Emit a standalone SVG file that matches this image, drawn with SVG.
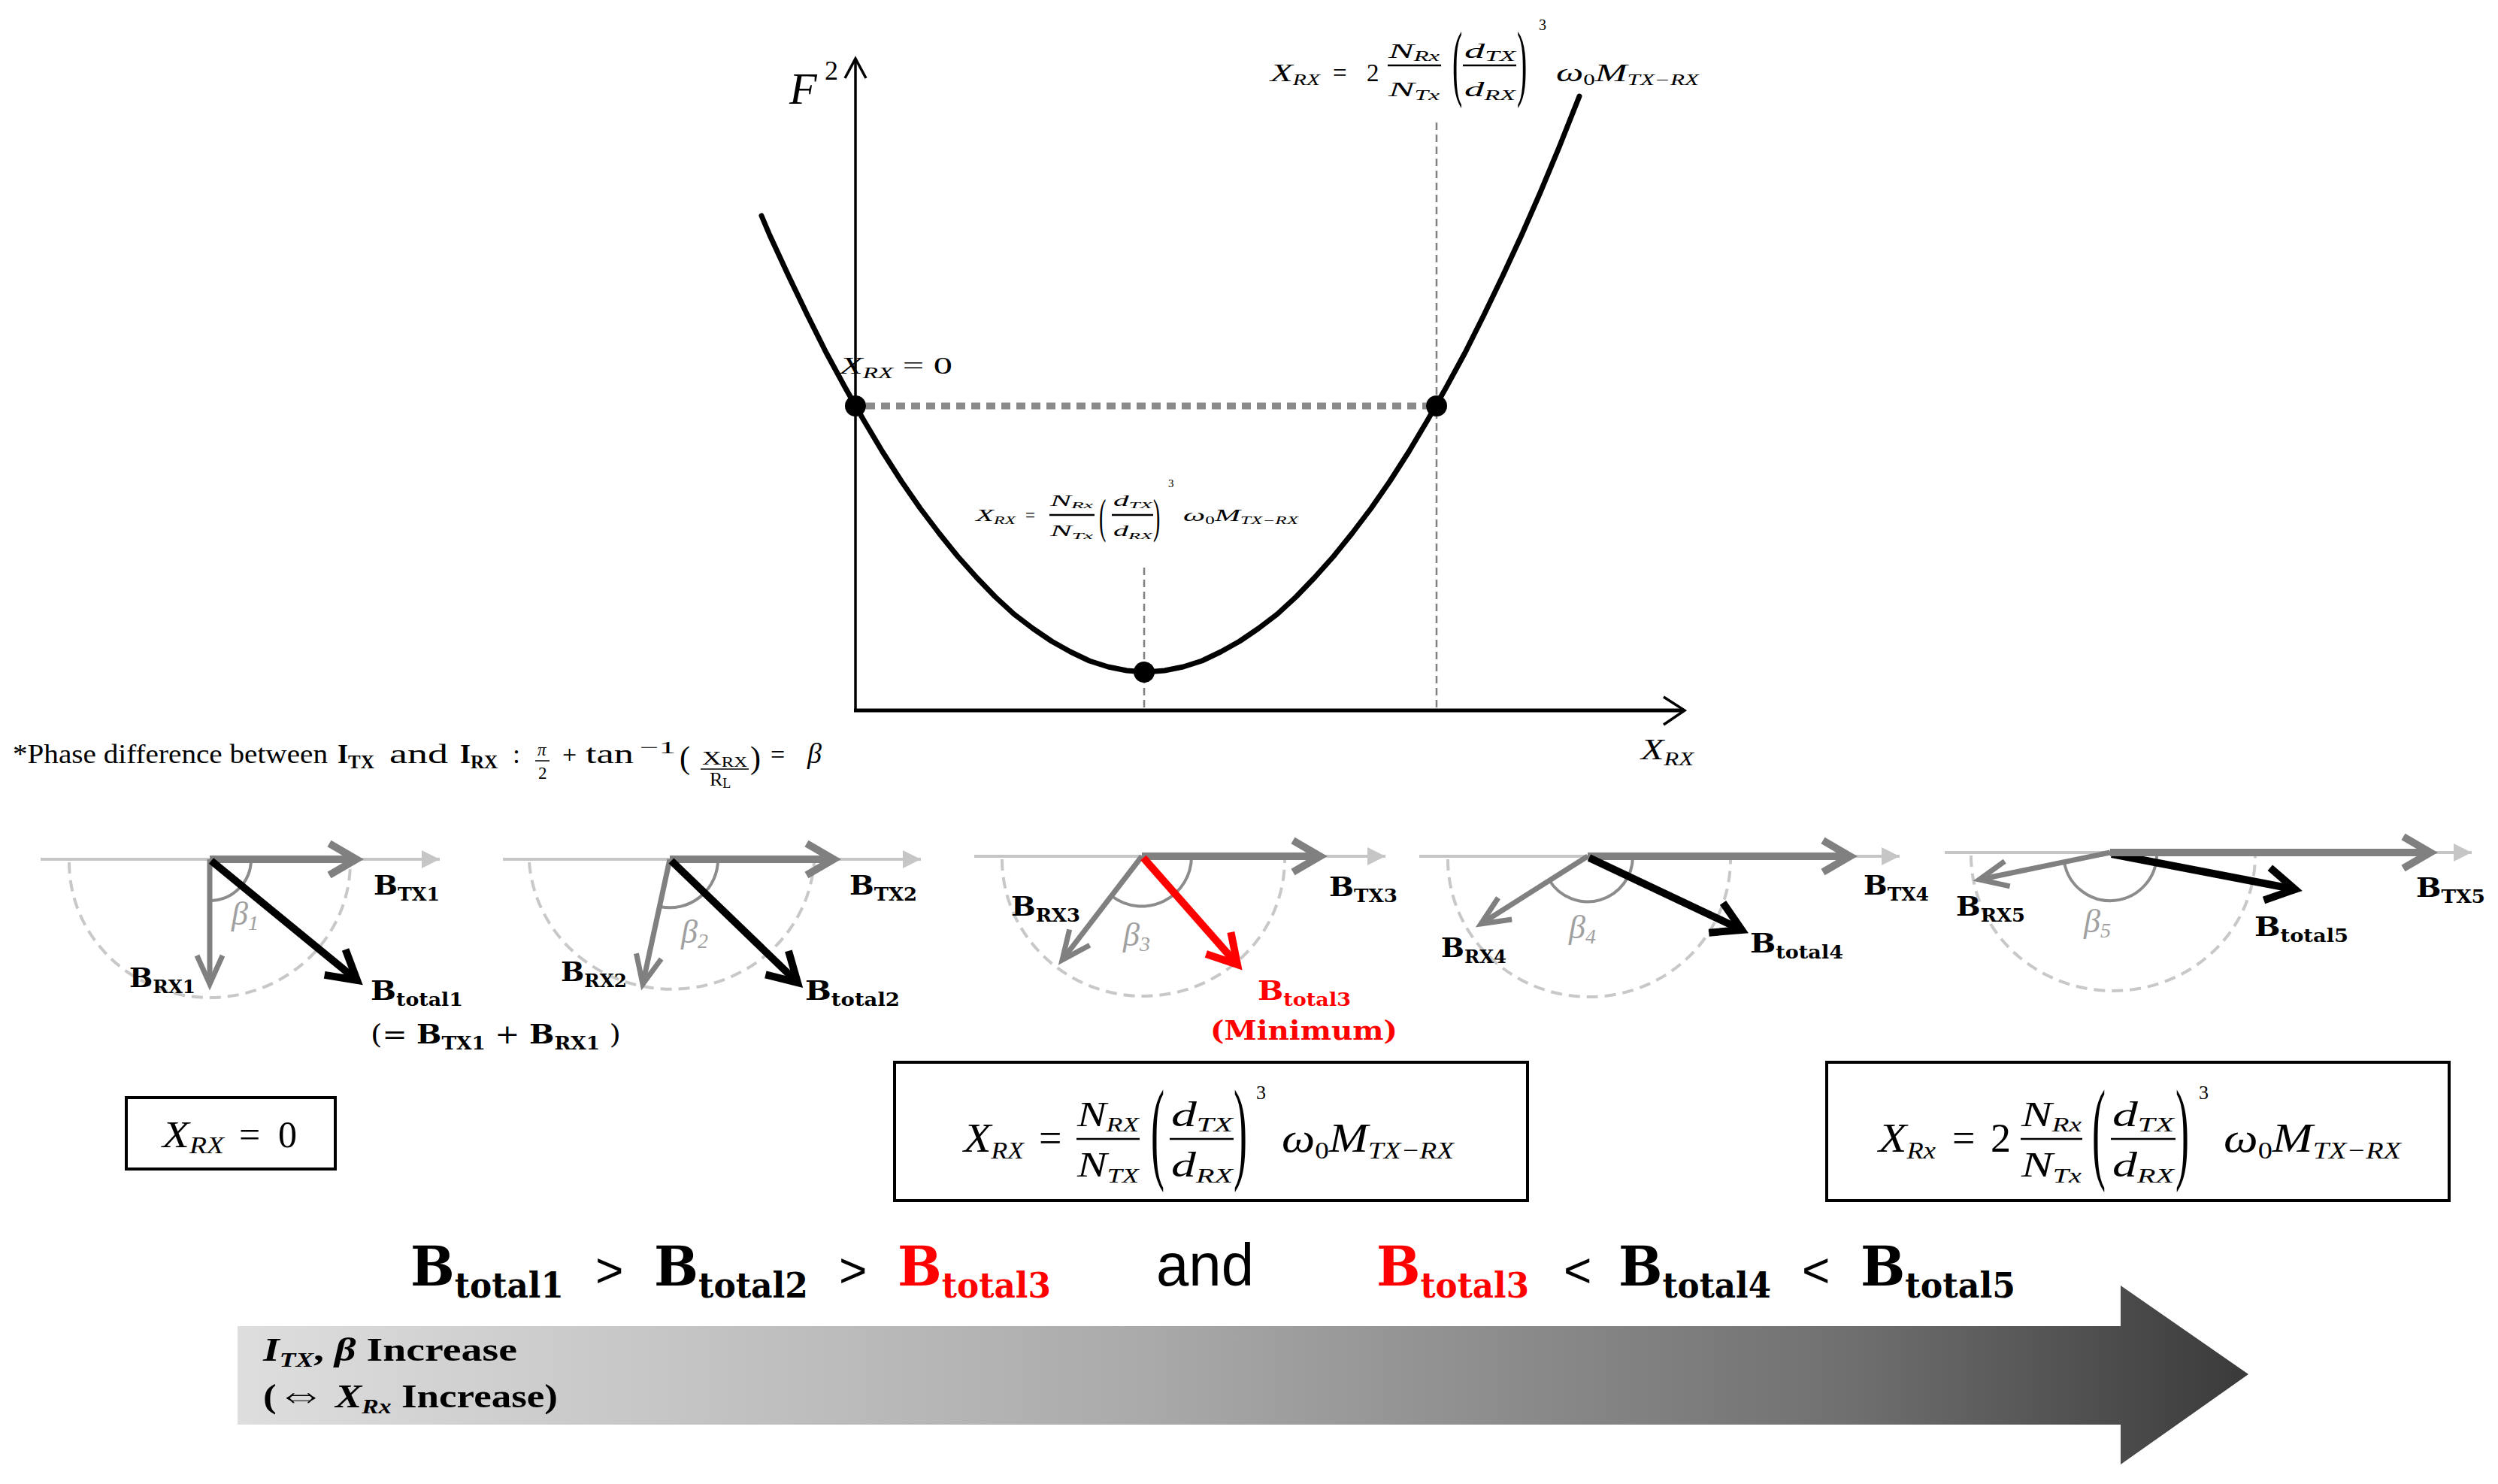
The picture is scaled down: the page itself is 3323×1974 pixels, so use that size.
<svg xmlns="http://www.w3.org/2000/svg" width="3323" height="1974" viewBox="0 0 3323 1974">
<style>
.lb{font-family:"DejaVu Serif",serif;font-weight:bold;font-size:36px;fill:#000}
.sb{font-size:24px}
.bt{font-family:"DejaVu Serif",serif;font-weight:bold;font-size:73px;fill:#000}
.bs{font-size:46px}
.m{font-family:"Liberation Serif","DejaVu Serif",serif;font-style:italic;fill:#000}
.u{font-family:"Liberation Serif","DejaVu Serif",serif;font-style:normal;fill:#000}
.base{stroke:#c6c6c6;stroke-width:4;marker-end:url(#mBase)}
.circ{fill:none;stroke:#c8c8c8;stroke-width:4;stroke-dasharray:15 9}
.tx{stroke:#808080;stroke-width:10;marker-end:url(#mTX)}
.rx{stroke:#808080;stroke-width:7;marker-end:url(#mRX)}
.tot{stroke:#000;stroke-width:10;marker-end:url(#mTot)}
.totr{stroke:#ff0000;stroke-width:10;marker-end:url(#mRed)}
.ang{fill:none;stroke:#8c8c8c;stroke-width:4}
.beta{font-family:"Liberation Serif",serif;font-style:italic;font-size:44px;fill:#a0a0a0}
.bsub{font-size:28px}
.red{fill:#ff0000}
.box{fill:#fff;stroke:#000;stroke-width:4}
.fb{stroke:#000;stroke-width:2.5}
.gl{font-family:"Liberation Sans",sans-serif;fill:#000}
</style>
<defs>
<marker id="mTX" markerUnits="userSpaceOnUse" orient="auto" overflow="visible" markerWidth="10" markerHeight="10" refX="0" refY="0"><path d="M-36,-21 L0,0 L-36,21" fill="none" stroke="#808080" stroke-width="10"/></marker>
<marker id="mRX" markerUnits="userSpaceOnUse" orient="auto" overflow="visible" markerWidth="10" markerHeight="10" refX="0" refY="0"><path d="M-38,-17 L0,0 L-38,17" fill="none" stroke="#808080" stroke-width="7"/></marker>
<marker id="mTot" markerUnits="userSpaceOnUse" orient="auto" overflow="visible" markerWidth="10" markerHeight="10" refX="0" refY="0"><path d="M-38,-22 L0,0 L-38,22" fill="none" stroke="#000" stroke-width="10"/></marker>
<marker id="mRed" markerUnits="userSpaceOnUse" orient="auto" overflow="visible" markerWidth="10" markerHeight="10" refX="0" refY="0"><path d="M-38,-22 L0,0 L-38,22" fill="none" stroke="#ff0000" stroke-width="10"/></marker>
<marker id="mBase" markerUnits="userSpaceOnUse" orient="auto" overflow="visible" markerWidth="10" markerHeight="10" refX="0" refY="0"><path d="M-24,-12 L0,0 L-24,12 Z" fill="#c6c6c6"/></marker>
<linearGradient id="gArrow" gradientUnits="userSpaceOnUse" x1="316" y1="0" x2="2991" y2="0">
<stop offset="0" stop-color="#dedede"/>
<stop offset="0.45" stop-color="#aaaaaa"/>
<stop offset="0.8" stop-color="#707070"/>
<stop offset="1" stop-color="#3a3a3a"/>
</linearGradient>
</defs>
<rect width="3323" height="1974" fill="#fff"/>

<!-- chart -->
<g id="chart">
<g id="chart-guides">
<line x1="1152" y1="540" x2="1897" y2="540" stroke="#8a8a8a" stroke-width="9" stroke-dasharray="12 8"/>
<line x1="1522" y1="755" x2="1522" y2="945" stroke="#808080" stroke-width="2.5" stroke-dasharray="10 6"/>
<line x1="1911" y1="163" x2="1911" y2="945" stroke="#808080" stroke-width="2.5" stroke-dasharray="10 6"/>
</g>
<g id="axes" fill="none" stroke="#000">
<line x1="1138" y1="945" x2="1138" y2="79" stroke-width="3.5"/>
<polyline points="1124,104 1138,78 1152,104" stroke-width="3.5"/>
<line x1="1136" y1="945" x2="2240" y2="945" stroke-width="5"/>
<polyline points="2213,927 2241,945 2213,964" stroke-width="3.5"/>
</g>
<polyline id="curve" fill="none" stroke="#000" stroke-width="7" stroke-linejoin="round" stroke-linecap="round" points="1013,287 1024,313 1049,367 1074,419 1099,469 1124,515 1149,559 1174,601 1199,640 1224,676 1249,709 1274,740 1299,768 1324,794 1349,817 1374,836 1399,853 1424,867 1449,879 1474,887 1499,892 1524,894 1549,892 1574,887 1599,879 1624,867 1649,853 1674,836 1699,817 1724,794 1749,768 1774,740 1799,709 1824,676 1849,640 1874,601 1899,559 1924,515 1949,469 1974,419 1999,367 2024,313 2049,256 2074,196 2101,128"/>
<g id="dots" fill="#000">
<circle cx="1138" cy="540" r="14"/>
<circle cx="1911" cy="540" r="14"/>
<circle cx="1522" cy="894" r="14"/>
</g>
<g id="chart-labels">
<text class="m" x="1050" y="138" font-size="60">F</text>
<text class="u" x="1097" y="106" font-size="36">2</text>
<text class="m" x="1117" y="497" font-size="32" textLength="150" lengthAdjust="spacingAndGlyphs">X<tspan font-size="21" dy="6">RX</tspan><tspan class="u" dy="-6"> = 0</tspan></text>
<text class="m" x="2183" y="1010" font-size="40" textLength="70" lengthAdjust="spacingAndGlyphs">X<tspan font-size="26" dy="8">RX</tspan></text>

<!-- top formula -->
<text class="m" x="1690" y="108" font-size="33" textLength="66" lengthAdjust="spacingAndGlyphs">X<tspan font-size="20" dy="5">RX</tspan></text>
<text class="u" x="1773" y="108" font-size="33">=</text>
<text class="u" x="1818" y="108" font-size="33">2</text>
<text class="m" x="1847" y="77" font-size="28" textLength="68" lengthAdjust="spacingAndGlyphs">N<tspan font-size="18" dy="4">Rx</tspan></text>
<line class="fb" x1="1846" y1="87" x2="1917" y2="87"/>
<text class="m" x="1847" y="128" font-size="28" textLength="68" lengthAdjust="spacingAndGlyphs">N<tspan font-size="18" dy="5">Tx</tspan></text>
<text class="u" font-size="40" transform="translate(1932,120) scale(1,2.8)">(</text>
<text class="m" x="1948" y="77" font-size="28" textLength="68" lengthAdjust="spacingAndGlyphs">d<tspan font-size="18" dy="4">TX</tspan></text>
<line class="fb" x1="1946" y1="87" x2="2017" y2="87"/>
<text class="m" x="1948" y="128" font-size="28" textLength="68" lengthAdjust="spacingAndGlyphs">d<tspan font-size="18" dy="5">RX</tspan></text>
<text class="u" font-size="40" transform="translate(2018,120) scale(1,2.8)">)</text>
<text class="u" x="2047" y="40" font-size="20">3</text>
<text class="m" x="2070" y="108" font-size="33" textLength="190" lengthAdjust="spacingAndGlyphs">ω<tspan class="u" font-size="20" dy="5">0</tspan><tspan dy="-5">M</tspan><tspan font-size="20" dy="5">TX−RX</tspan></text>

<!-- middle formula -->
<text class="m" x="1298" y="693" font-size="23" textLength="53" lengthAdjust="spacingAndGlyphs">X<tspan font-size="14" dy="4">RX</tspan></text>
<text class="u" x="1364" y="693" font-size="23">=</text>
<text class="m" x="1397" y="673" font-size="20" textLength="57" lengthAdjust="spacingAndGlyphs">N<tspan font-size="13" dy="3">Rx</tspan></text>
<line class="fb" x1="1396" y1="685" x2="1456" y2="685" stroke-width="2"/>
<text class="m" x="1397" y="713" font-size="20" textLength="57" lengthAdjust="spacingAndGlyphs">N<tspan font-size="13" dy="4">Tx</tspan></text>
<text class="u" font-size="28" transform="translate(1462,708) scale(1,2.3)">(</text>
<text class="m" x="1481" y="673" font-size="20" textLength="52" lengthAdjust="spacingAndGlyphs">d<tspan font-size="13" dy="3">TX</tspan></text>
<line class="fb" x1="1479" y1="685" x2="1534" y2="685" stroke-width="2"/>
<text class="m" x="1481" y="713" font-size="20" textLength="52" lengthAdjust="spacingAndGlyphs">d<tspan font-size="13" dy="4">RX</tspan></text>
<text class="u" font-size="28" transform="translate(1534,708) scale(1,2.3)">)</text>
<text class="u" x="1554" y="648" font-size="15">3</text>
<text class="m" x="1574" y="693" font-size="23" textLength="153" lengthAdjust="spacingAndGlyphs">ω<tspan class="u" font-size="14" dy="4">0</tspan><tspan dy="-4">M</tspan><tspan font-size="14" dy="4">TX−RX</tspan></text>
</g>
</g>

<!-- phase difference note -->
<g id="phase-note">
<text class="u" x="17" y="1015" font-size="36" textLength="419" lengthAdjust="spacingAndGlyphs">*Phase difference between</text>
<text class="u" x="449" y="1015" font-size="36" font-weight="bold">I<tspan font-size="25" dy="7">TX</tspan></text>
<text class="u" x="518" y="1015" font-size="36" textLength="78" lengthAdjust="spacingAndGlyphs">and</text>
<text class="u" x="612" y="1015" font-size="36" font-weight="bold">I<tspan font-size="25" dy="7">RX</tspan></text>
<text class="u" x="682" y="1015" font-size="36">:</text>
<text class="m" x="715" y="1005" font-size="23">π</text>
<line x1="712" y1="1012" x2="731" y2="1012" stroke="#000" stroke-width="1.5"/>
<text class="u" x="716" y="1036" font-size="23">2</text>
<text class="u" x="748" y="1015" font-size="34">+</text>
<text class="u" x="779" y="1015" font-size="36" textLength="64" lengthAdjust="spacingAndGlyphs">tan</text>
<text class="u" x="851" y="1002" font-size="24" textLength="48" lengthAdjust="spacingAndGlyphs">−1</text>
<text class="u" x="904" y="1022" font-size="42">(</text>
<text class="u" x="934" y="1017" font-size="26" textLength="60" lengthAdjust="spacingAndGlyphs">X<tspan font-size="18" dy="3">RX</tspan></text>
<line x1="932" y1="1023" x2="996" y2="1023" stroke="#000" stroke-width="1.5"/>
<text class="u" x="944" y="1045" font-size="26">R<tspan font-size="18" dy="3">L</tspan></text>
<text class="u" x="998" y="1022" font-size="42">)</text>
<text class="u" x="1025" y="1015" font-size="34">=</text>
<text class="m" x="1074" y="1015" font-size="38">β</text>
</g>

<!-- phasor diagrams -->
<g id="phasor1">
<line class="base" x1="54" y1="1143" x2="585" y2="1143"/>
<path class="circ" d="M92,1147 A187,180 0 0 0 466,1147"/>
<path class="ang" d="M334,1143 A55,55 0 0 1 279,1198"/>
<line class="rx" x1="279" y1="1143" x2="279" y2="1309"/>
<line class="tx" x1="279" y1="1143" x2="474" y2="1143"/>
<line class="tot" x1="281" y1="1145" x2="475" y2="1304"/>
<text class="beta" x="308" y="1230">β<tspan class="bsub" dy="7">1</tspan></text>
<text class="lb" x="497" y="1190" textLength="88" lengthAdjust="spacingAndGlyphs">B<tspan class="sb" dy="8">TX1</tspan></text>
<text class="lb" x="172" y="1313" textLength="88" lengthAdjust="spacingAndGlyphs">B<tspan class="sb" dy="8">RX1</tspan></text>
<text class="lb" x="493" y="1330" textLength="123" lengthAdjust="spacingAndGlyphs">B<tspan class="sb" dy="8">total1</tspan></text>
<text class="lb" x="493" y="1388" textLength="333" lengthAdjust="spacingAndGlyphs"><tspan font-weight="normal">(= </tspan>B<tspan class="sb" dy="8">TX1</tspan><tspan dy="-8" font-weight="normal"> + </tspan>B<tspan class="sb" dy="8">RX1</tspan><tspan dy="-8" font-weight="normal"> )</tspan></text>
</g>

<g id="phasor2">
<line class="base" x1="669" y1="1143" x2="1225" y2="1143"/>
<path class="circ" d="M704,1147 A190,182 0 0 0 1083,1147"/>
<path class="ang" d="M955,1143 A64,64 0 0 1 878,1206"/>
<line class="rx" x1="891" y1="1143" x2="855" y2="1309"/>
<line class="tx" x1="891" y1="1143" x2="1109" y2="1143"/>
<line class="tot" x1="893" y1="1145" x2="1061" y2="1307"/>
<text class="beta" x="906" y="1254">β<tspan class="bsub" dy="7">2</tspan></text>
<text class="lb" x="1130" y="1190" textLength="90" lengthAdjust="spacingAndGlyphs">B<tspan class="sb" dy="8">TX2</tspan></text>
<text class="lb" x="746" y="1305" textLength="88" lengthAdjust="spacingAndGlyphs">B<tspan class="sb" dy="8">RX2</tspan></text>
<text class="lb" x="1071" y="1330" textLength="126" lengthAdjust="spacingAndGlyphs">B<tspan class="sb" dy="8">total2</tspan></text>
</g>

<g id="phasor3">
<line class="base" x1="1296" y1="1139" x2="1843" y2="1139"/>
<path class="circ" d="M1333,1143 A188,182 0 0 0 1709,1143"/>
<path class="ang" d="M1585,1139 A66,66 0 0 1 1479,1192"/>
<line class="rx" x1="1519" y1="1139" x2="1413" y2="1277"/>
<line class="tx" x1="1519" y1="1139" x2="1756" y2="1139"/>
<line class="totr" x1="1521" y1="1141" x2="1646" y2="1283"/>
<text class="beta" x="1494" y="1258">β<tspan class="bsub" dy="7">3</tspan></text>
<text class="lb" x="1768" y="1192" textLength="91" lengthAdjust="spacingAndGlyphs">B<tspan class="sb" dy="8">TX3</tspan></text>
<text class="lb" x="1345" y="1218" textLength="92" lengthAdjust="spacingAndGlyphs">B<tspan class="sb" dy="8">RX3</tspan></text>
<text class="lb red" x="1673" y="1330" textLength="124" lengthAdjust="spacingAndGlyphs">B<tspan class="sb" dy="8">total3</tspan></text>
<text class="lb red" x="1610" y="1383" textLength="249" lengthAdjust="spacingAndGlyphs">(Minimum)</text>
</g>

<g id="phasor4">
<line class="base" x1="1888" y1="1139" x2="2527" y2="1139"/>
<path class="circ" d="M1926,1143 A188,183 0 0 0 2302,1143"/>
<path class="ang" d="M2172,1139 A60,60 0 0 1 2061,1171"/>
<line class="rx" x1="2112" y1="1139" x2="1970" y2="1229"/>
<line class="tx" x1="2112" y1="1139" x2="2461" y2="1139"/>
<line class="tot" x1="2114" y1="1141" x2="2317" y2="1237"/>
<text class="beta" x="2087" y="1248">β<tspan class="bsub" dy="7">4</tspan></text>
<text class="lb" x="2479" y="1190" textLength="87" lengthAdjust="spacingAndGlyphs">B<tspan class="sb" dy="8">TX4</tspan></text>
<text class="lb" x="1917" y="1273" textLength="87" lengthAdjust="spacingAndGlyphs">B<tspan class="sb" dy="8">RX4</tspan></text>
<text class="lb" x="2328" y="1267" textLength="124" lengthAdjust="spacingAndGlyphs">B<tspan class="sb" dy="8">total4</tspan></text>
</g>

<g id="phasor5">
<line class="base" x1="2587" y1="1134" x2="3288" y2="1134"/>
<path class="circ" d="M2622,1138 A189,180 0 0 0 3000,1138"/>
<path class="ang" d="M2869,1134 A62,62 0 0 1 2746,1147"/>
<line class="rx" x1="2807" y1="1134" x2="2633" y2="1170"/>
<line class="tot" x1="2809" y1="1136" x2="3053" y2="1183"/>
<line class="tx" x1="2807" y1="1134" x2="3233" y2="1134"/>
<text class="beta" x="2772" y="1240">β<tspan class="bsub" dy="7">5</tspan></text>
<text class="lb" x="3214" y="1193" textLength="92" lengthAdjust="spacingAndGlyphs">B<tspan class="sb" dy="8">TX5</tspan></text>
<text class="lb" x="2602" y="1218" textLength="92" lengthAdjust="spacingAndGlyphs">B<tspan class="sb" dy="8">RX5</tspan></text>
<text class="lb" x="2999" y="1245" textLength="125" lengthAdjust="spacingAndGlyphs">B<tspan class="sb" dy="8">total5</tspan></text>
</g>

<!-- condition boxes -->
<g id="box1">
<rect class="box" x="168" y="1460" width="278" height="95"/>
<text class="m" x="216" y="1526" font-size="50" textLength="82" lengthAdjust="spacingAndGlyphs">X<tspan font-size="32" dy="8">RX</tspan></text>
<text class="u" x="318" y="1526" font-size="50">=</text>
<text class="u" x="370" y="1526" font-size="50">0</text>
</g>

<g id="box2">
<rect class="box" x="1190" y="1413" width="842" height="184"/>
<text class="m" x="1282" y="1532" font-size="54" textLength="80" lengthAdjust="spacingAndGlyphs">X<tspan font-size="32" dy="9">RX</tspan></text>
<text class="u" x="1382" y="1532" font-size="54">=</text>
<text class="m" x="1433" y="1498" font-size="46" textLength="82" lengthAdjust="spacingAndGlyphs">N<tspan font-size="28" dy="7">RX</tspan></text>
<line class="fb" x1="1432" y1="1515" x2="1516" y2="1515" stroke-width="4"/>
<text class="m" x="1433" y="1565" font-size="46" textLength="82" lengthAdjust="spacingAndGlyphs">N<tspan font-size="28" dy="8">TX</tspan></text>
<text class="u" font-size="54" transform="translate(1531,1554) scale(1,2.8)">(</text>
<text class="m" x="1558" y="1498" font-size="46" textLength="82" lengthAdjust="spacingAndGlyphs">d<tspan font-size="28" dy="7">TX</tspan></text>
<line class="fb" x1="1556" y1="1515" x2="1641" y2="1515" stroke-width="4"/>
<text class="m" x="1558" y="1565" font-size="46" textLength="82" lengthAdjust="spacingAndGlyphs">d<tspan font-size="28" dy="8">RX</tspan></text>
<text class="u" font-size="54" transform="translate(1641,1554) scale(1,2.8)">)</text>
<text class="u" x="1671" y="1462" font-size="26">3</text>
<text class="m" x="1705" y="1532" font-size="54" textLength="229" lengthAdjust="spacingAndGlyphs">ω<tspan class="u" font-size="32" dy="9">0</tspan><tspan dy="-9">M</tspan><tspan font-size="32" dy="9">TX−RX</tspan></text>
</g>

<g id="box3">
<rect class="box" x="2430" y="1413" width="828" height="184"/>
<text class="m" x="2499" y="1532" font-size="54" textLength="76" lengthAdjust="spacingAndGlyphs">X<tspan font-size="32" dy="9">Rx</tspan></text>
<text class="u" x="2597" y="1532" font-size="54">=</text>
<text class="u" x="2648" y="1532" font-size="54">2</text>
<text class="m" x="2689" y="1498" font-size="46" textLength="80" lengthAdjust="spacingAndGlyphs">N<tspan font-size="28" dy="7">Rx</tspan></text>
<line class="fb" x1="2688" y1="1515" x2="2770" y2="1515" stroke-width="4"/>
<text class="m" x="2689" y="1565" font-size="46" textLength="80" lengthAdjust="spacingAndGlyphs">N<tspan font-size="28" dy="8">Tx</tspan></text>
<text class="u" font-size="54" transform="translate(2783,1554) scale(1,2.8)">(</text>
<text class="m" x="2810" y="1498" font-size="46" textLength="82" lengthAdjust="spacingAndGlyphs">d<tspan font-size="28" dy="7">TX</tspan></text>
<line class="fb" x1="2808" y1="1515" x2="2894" y2="1515" stroke-width="4"/>
<text class="m" x="2810" y="1565" font-size="46" textLength="82" lengthAdjust="spacingAndGlyphs">d<tspan font-size="28" dy="8">RX</tspan></text>
<text class="u" font-size="54" transform="translate(2894,1554) scale(1,2.8)">)</text>
<text class="u" x="2925" y="1462" font-size="26">3</text>
<text class="m" x="2958" y="1532" font-size="54" textLength="236" lengthAdjust="spacingAndGlyphs">ω<tspan class="u" font-size="32" dy="9">0</tspan><tspan dy="-9">M</tspan><tspan font-size="32" dy="9">TX−RX</tspan></text>
</g>

<!-- summary relation -->
<g id="summary">
<text class="bt" x="546" y="1710" textLength="204" lengthAdjust="spacingAndGlyphs">B<tspan class="bs" dy="16">total1</tspan></text>
<text class="gl" x="792" y="1712" font-size="64">&gt;</text>
<text class="bt" x="870" y="1710" textLength="205" lengthAdjust="spacingAndGlyphs">B<tspan class="bs" dy="16">total2</tspan></text>
<text class="gl" x="1116" y="1712" font-size="64">&gt;</text>
<text class="bt red" x="1194" y="1710" textLength="204" lengthAdjust="spacingAndGlyphs">B<tspan class="bs" dy="16">total3</tspan></text>
<text class="gl" x="1538" y="1710" font-size="80" textLength="130" lengthAdjust="spacingAndGlyphs">and</text>
<text class="bt red" x="1831" y="1710" textLength="203" lengthAdjust="spacingAndGlyphs">B<tspan class="bs" dy="16">total3</tspan></text>
<text class="gl" x="2080" y="1712" font-size="64">&lt;</text>
<text class="bt" x="2153" y="1710" textLength="203" lengthAdjust="spacingAndGlyphs">B<tspan class="bs" dy="16">total4</tspan></text>
<text class="gl" x="2397" y="1712" font-size="64">&lt;</text>
<text class="bt" x="2475" y="1710" textLength="206" lengthAdjust="spacingAndGlyphs">B<tspan class="bs" dy="16">total5</tspan></text>
</g>

<!-- gradient arrow -->
<g id="increase-arrow">
<polygon points="316,1764 2821,1764 2821,1710 2991,1828 2821,1948 2821,1895 316,1895" fill="url(#gArrow)"/>
<text class="u" x="350" y="1810" font-size="44" font-weight="bold" fill="#262626" textLength="338" lengthAdjust="spacingAndGlyphs"><tspan font-style="italic">I</tspan><tspan font-style="italic" font-size="28" dy="8">TX</tspan><tspan dy="-8">, </tspan><tspan font-style="italic">β</tspan> Increase</text>
<text class="u" x="350" y="1872" font-size="44" font-weight="bold" fill="#262626" textLength="392" lengthAdjust="spacingAndGlyphs">(<tspan font-size="54">⇔</tspan> <tspan font-style="italic">X</tspan><tspan font-style="italic" font-size="28" dy="8">Rx</tspan><tspan dy="-8"> Increase)</tspan></text>
</g>
</svg>
